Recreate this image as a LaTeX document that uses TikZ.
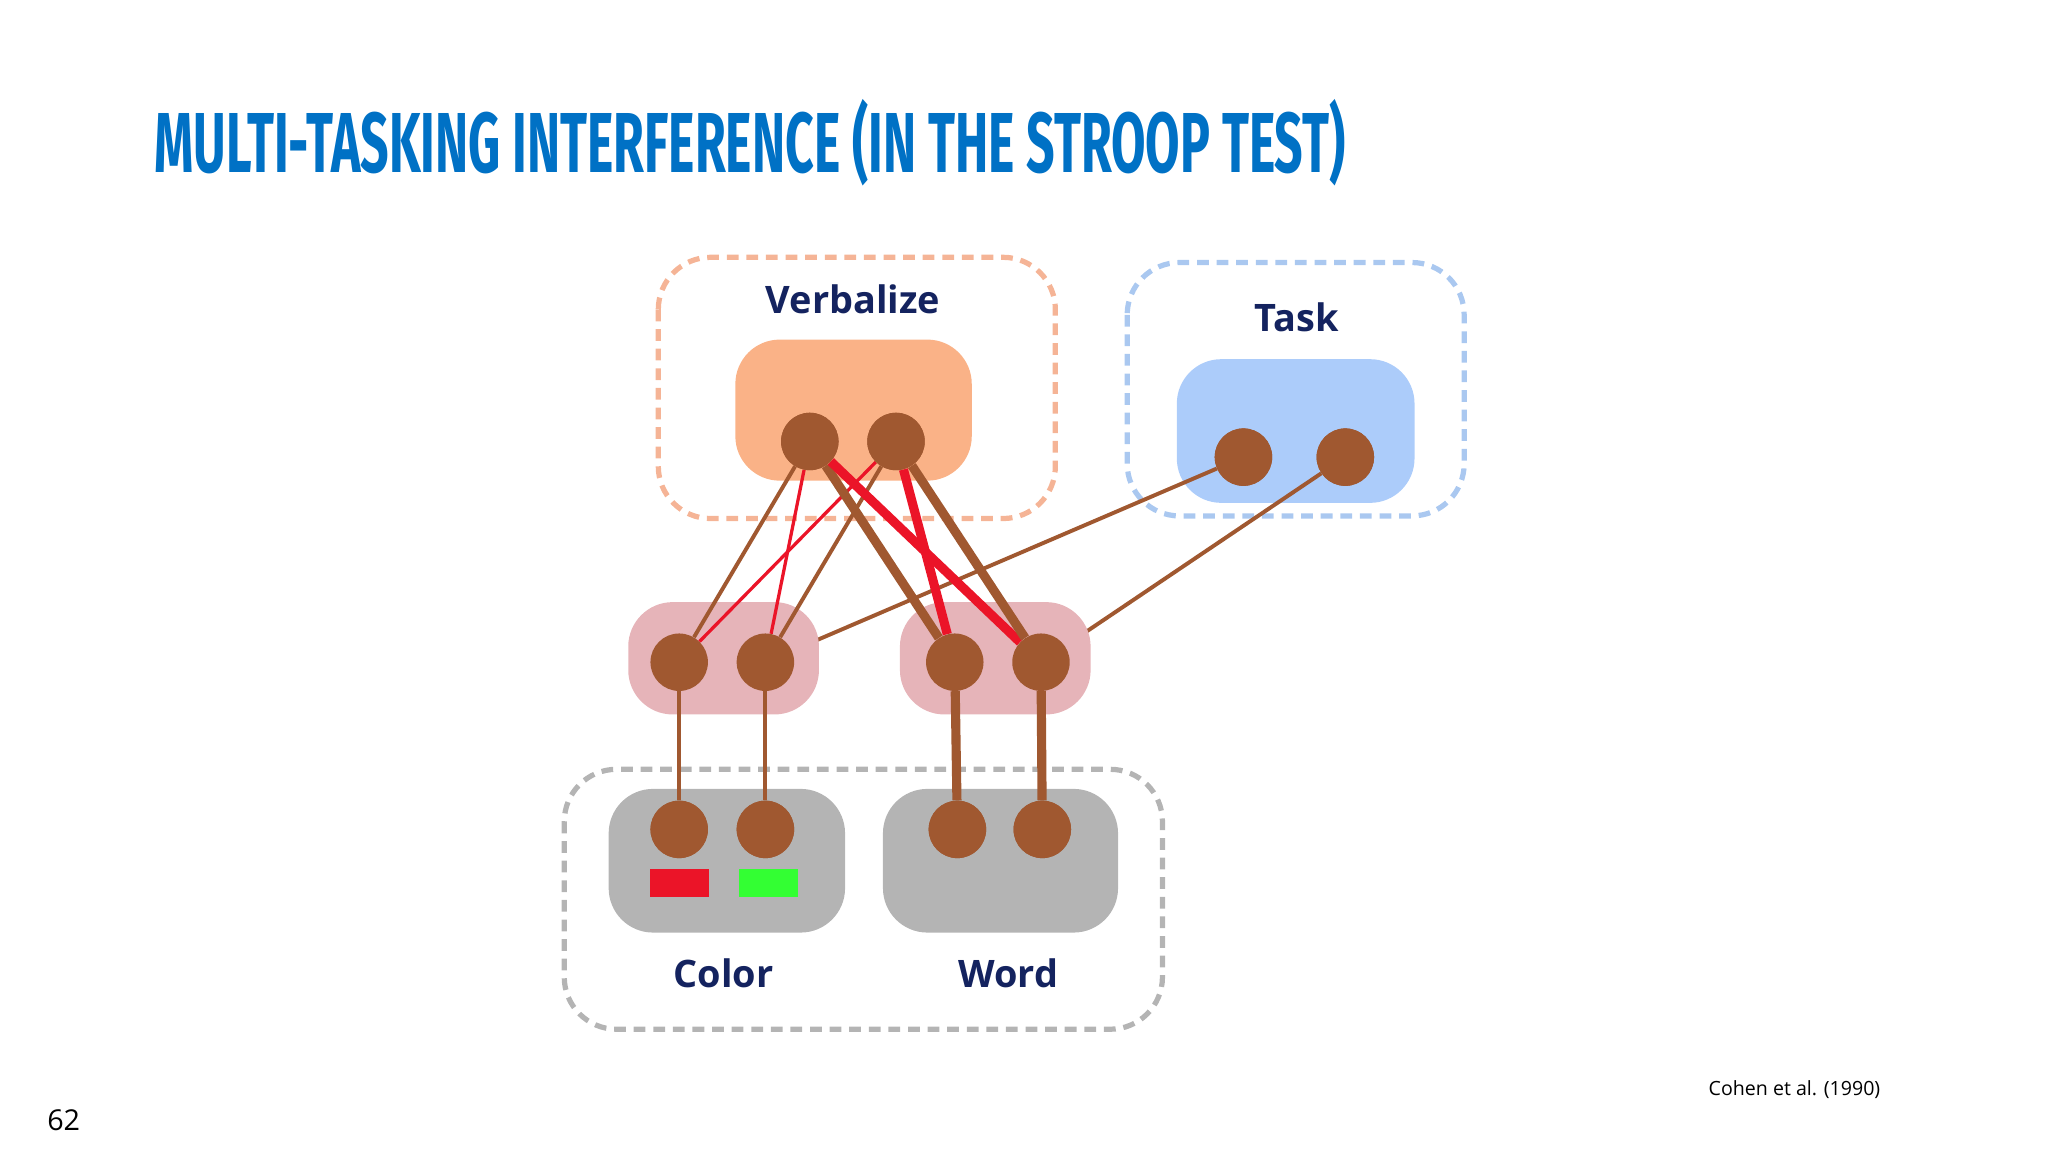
\documentclass[tikz,border=0pt]{standalone}
\usepackage{fontspec}
\usepackage{graphicx}
\setmainfont{Open Sans}
\newfontfamily\titlefont{Fira Sans}
\definecolor{brn}{RGB}{160,88,48}
\definecolor{rd}{RGB}{235,20,40}
\definecolor{navy}{RGB}{20,35,95}
\definecolor{ttl}{RGB}{0,113,197}
\definecolor{orfill}{RGB}{250,178,135}
\definecolor{ordash}{RGB}{245,180,150}
\definecolor{blfill}{RGB}{172,204,250}
\definecolor{bldash}{RGB}{170,200,240}
\definecolor{pk}{RGB}{230,180,185}
\definecolor{gr}{RGB}{180,180,180}
\tikzset{
 unit/.style={circle,fill=brn,minimum size=44pt,inner sep=0pt},
 thinb/.style={brn,line width=3pt},
 thinr/.style={rd,line width=2.5pt},
 thickb/.style={brn,line width=7pt},
 thickr/.style={rd,line width=7pt},
 grp/.style={rounded corners=34pt},
 dbox/.style={dashed,line width=4pt,dash pattern=on 9pt off 6pt,rounded corners=40pt},
 lab/.style={text=navy,font=\fontsize{29}{34}\selectfont\bfseries},
}
\begin{document}
\begin{tikzpicture}[x=1pt,y=-1pt]
\useasboundingbox (0,0) rectangle (1568,882);
\node[anchor=west,inner sep=0pt,text=ttl] (title) at (118,109) {\resizebox{912pt}{56pt}{\titlefont\bfseries MULTI-TASKING INTERFERENCE (IN THE STROOP TEST)}};
\node[anchor=west,inner sep=0pt,font=\fontsize{22}{26}\selectfont] (pg) at (36,858) {62};
\node[anchor=west,inner sep=0pt,font=\fontsize{15}{18}\selectfont] (cite) at (1308,834) {Cohen et al. (1990)};
% boxes
\draw[dbox,ordash] (504,197) rectangle (808,397);
\fill[grp,orfill] (563,260) rectangle (744,368);
\node[lab] (vl) at (653,229) {Verbalize};
\draw[dbox,bldash] (863,201) rectangle (1121,395);
\fill[grp,blfill] (901,275) rectangle (1083,385);
\node[lab] (tl) at (993,243) {Task};
\draw[dbox,gr] (432,589) rectangle (890,788);
\fill[grp,gr] (466,604) rectangle (647,714);
\fill[grp,gr] (676,604) rectangle (856,714);
\node[lab] (cl) at (554,745) {Color};
\node[lab] (wl) at (772,745) {Word};
\fill[rd] (498,665) rectangle (543,687);
\fill[green!80!white] (566,665) rectangle (611,687);
% nodes
\node[unit] (V1) at (620,338) {};
\node[unit] (V2) at (686,338) {};
\node[unit] (T1) at (952,350) {};
\node[unit] (T2) at (1030,350) {};
\node[unit] (H1) at (520,507) {};
\node[unit] (H2) at (586,507) {};
\node[unit] (H3) at (731,507) {};
\node[unit] (H4) at (797,507) {};
\node[unit] (C1) at (520,635) {};
\node[unit] (C2) at (586,635) {};
\node[unit] (W1) at (733,635) {};
\node[unit] (W2) at (798,635) {};
% task lines behind pink
\begin{scope}[on background layer/.style={}]
\draw[thinb] (T1) -- (H2);
\draw[thinb] (T2) -- (H4);
\end{scope}
\fill[grp,pk] (481,461) rectangle (627,547);
\fill[grp,pk] (689,461) rectangle (835,547);
\draw[thinb] (V1) -- (H1);
\draw[thinr] (V1) -- (H2);
\draw[thinr] (V2) -- (H1);
\draw[thinb] (V2) -- (H2);
\draw[thickb] (V1) -- (H3);
\draw[thickr] (V1) -- (H4);
\draw[thickr] (V2) -- (H3);
\draw[thickb] (V2) -- (H4);
\draw[thinb] (C1) -- (H1);
\draw[thinb] (C2) -- (H2);
\draw[thickb] (W1) -- (H3);
\draw[thickb] (W2) -- (H4);
\foreach \n/\p in {V1/620,V2/686} \node[unit] at (\p,338) {};
\foreach \n/\x/\y in {a/520/507,b/586/507,c/731/507,d/797/507,e/520/635,f/586/635,g/733/635,h/798/635,i/952/350,j/1030/350} \node[unit] (r\n) at (\x,\y) {};
\end{tikzpicture}
\end{document}
